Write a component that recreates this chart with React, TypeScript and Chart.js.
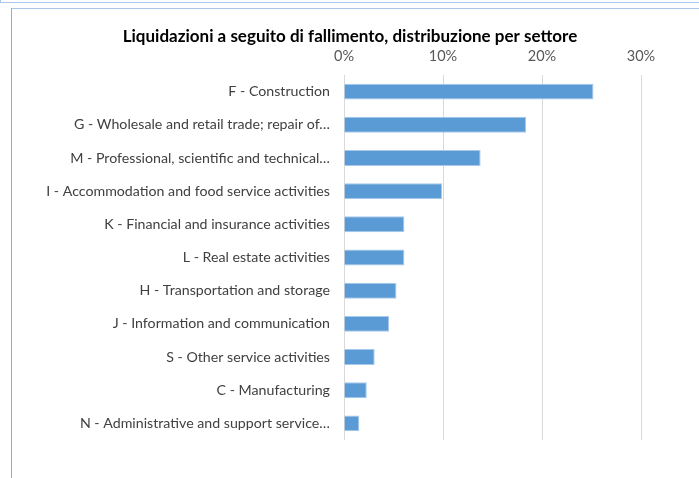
import React, { useEffect, useRef } from "react";
import { Chart, registerables } from "chart.js";

Chart.register(...registerables);

const TITLE = "Liquidazioni a seguito di fallimento, distribuzione per settore";

const categories = [
  "F - Construction",
  "G - Wholesale and retail trade; repair of…",
  "M - Professional, scientific and technical…",
  "I - Accommodation and food service activities",
  "K - Financial and insurance activities",
  "L - Real estate activities",
  "H - Transportation and storage",
  "J - Information and communication",
  "S - Other service activities",
  "C - Manufacturing",
  "N - Administrative and support service…",
];

const shares = [25.2, 18.4, 13.8, 9.9, 6.1, 6.1, 5.3, 4.55, 3.1, 2.3, 1.55];

const xTicks = [0, 10, 20, 30];

const FONT = "Lato, 'Open Sans', sans-serif";

const titlePlugin = {
  id: "centeredTitle",
  afterDraw(chart: any) {
    const ctx = chart.ctx;
    ctx.save();
    ctx.font = `bold 17px ${FONT}`;
    ctx.fillStyle = "#000000";
    ctx.textAlign = "center";
    ctx.textBaseline = "middle";
    ctx.fillText(TITLE, 350, 37);
    ctx.restore();
  },
};

export default function App() {
  const ref = useRef<HTMLCanvasElement | null>(null);

  useEffect(() => {
    document.body.style.margin = "0";
    const ctx = ref.current;
    if (!ctx) return;
    const chart = new Chart(ctx, {
      type: "bar",
      data: {
        labels: categories,
        datasets: [
          {
            data: shares,
            backgroundColor: "#5B9BD5",
            borderColor: "#A6C9EC",
            borderWidth: 1,
            barPercentage: 0.48,
            categoryPercentage: 1,
          },
        ],
      },
      options: {
        indexAxis: "y",
        animation: false,
        responsive: false,
        maintainAspectRatio: false,
        layout: { padding: { left: 14, right: 58, top: 47.6, bottom: 38 } },
        plugins: {
          legend: { display: false },
          tooltip: { enabled: false },
          title: { display: false },
        },
        scales: {
          x: {
            position: "top",
            min: 0,
            max: 30,
            afterBuildTicks: (scale: any) => {
              scale.ticks = xTicks.map((v) => ({ value: v }));
            },
            afterFit: (scale: any) => {
              scale.height = 27.4;
            },
            ticks: {
              color: "#595959",
              font: { family: FONT, size: 14.5 },
              padding: 10,
              callback: (v: any) => v + "%",
            },
            grid: { color: "#D9D9D9", lineWidth: 1, drawTicks: false },
            border: { display: false },
          },
          y: {
            afterFit: (scale: any) => {
              scale.width = 330;
            },
            ticks: {
              color: "#404040",
              font: { family: FONT, size: 14.2 },
              padding: 14,
              autoSkip: false,
            },
            grid: { display: false, drawTicks: false },
            border: { display: false },
          },
        },
      },
      plugins: [titlePlugin],
    } as any);
    return () => chart.destroy();
  }, []);

  return (
    <div style={{ position: "fixed", left: 0, top: 0, width: 699, height: 478, background: "#fff", overflow: "hidden" }}>
      <div style={{ position: "absolute", left: 0, top: 2, width: 699, height: 1, background: "#A9C8EA" }} />
      <div style={{ position: "absolute", left: 0, top: 0, width: 1, height: 3, background: "#A9C8EA" }} />
      <div style={{ position: "absolute", left: 11, top: 8, width: 688, height: 1, background: "#A9C8EA" }} />
      <div style={{ position: "absolute", left: 11, top: 8, width: 1, height: 470, background: "#7EB1E4" }} />
      <canvas ref={ref} width={699} height={478} style={{ position: "absolute", left: 0, top: 0, width: 699, height: 478 }} />
    </div>
  );
}
